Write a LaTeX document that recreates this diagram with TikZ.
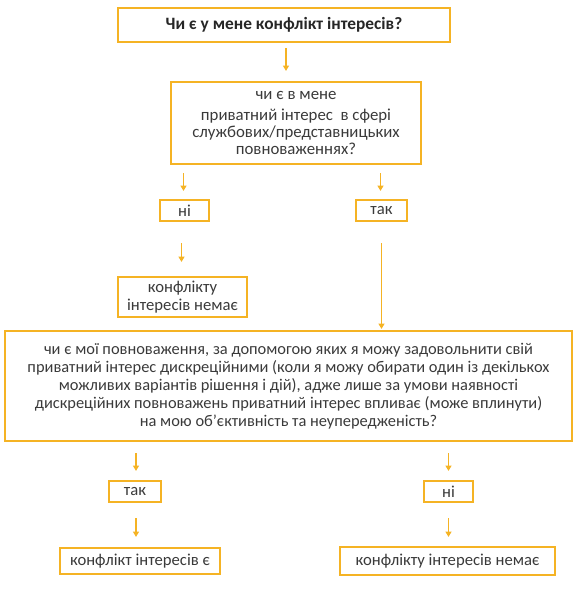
\documentclass[tikz,border=0pt]{standalone}
\usepackage{fontspec}
\setmainfont{Carlito}
\usetikzlibrary{arrows.meta,calc}
\definecolor{ybord}{HTML}{F5B324}
\definecolor{txt}{HTML}{3A3A3A}
\begin{document}
\begin{tikzpicture}[x=0.75pt,y=-0.75pt,
  box/.style={draw=ybord,line width=1.6pt,rectangle,inner sep=0pt,align=center,text=txt,font=\fontsize{12.5pt}{13.8pt}\selectfont},
  arr/.style={draw=ybord,line width=0.8pt,-{Triangle[width=4.5pt,length=4pt]}}]
\useasboundingbox (0,0) rectangle (587,591);
\node[box,minimum width=332*0.75pt,minimum height=34*0.75pt,font=\fontsize{13pt}{14pt}\selectfont\bfseries,text=black!85] (b1) at (284,25) {Чи є у мене конфлікт інтересів?};
\node[box,minimum width=250*0.75pt,minimum height=82*0.75pt,font=\fontsize{12.6pt}{12.6pt}\selectfont] (b2) at (296,123) {чи є в мене\\[3pt] приватний інтерес~ в сфері\\ службових/представницьких\\ повноваженнях?};
\node[box,minimum width=49*0.75pt,minimum height=21*0.75pt] (ni1) at (184.5,210.5) {ні};
\node[box,minimum width=51*0.75pt,minimum height=21*0.75pt] (tak1) at (381.5,210.5) {так};
\node[box,minimum width=129*0.75pt,minimum height=40*0.75pt,font=\fontsize{12.5pt}{13.5pt}\selectfont] (no1) at (182.5,297) {конфлікту\\ інтересів немає};
\node[box,minimum width=567*0.75pt,minimum height=110*0.75pt,font=\fontsize{12.3pt}{13.5pt}\selectfont] (big) at (288.5,386) {чи є мої повноваження, за допомогою яких я можу задовольнити свій\\ приватний інтерес дискреційними (коли я можу обирати один із декількох\\ можливих варіантів рішення і дій), адже лише за умови наявності\\ дискреційних повноважень приватний інтерес впливає (може вплинути)\\ на мою об’єктивність та неупередженість?};
\node[box,minimum width=52*0.75pt,minimum height=21*0.75pt] (tak2) at (135,491.5) {так};
\node[box,minimum width=49*0.75pt,minimum height=21*0.75pt] (ni2) at (448.5,491.5) {ні};
\node[box,minimum width=160*0.75pt,minimum height=26*0.75pt] (yes3) at (140,561) {конфлікт інтересів є};
\node[box,minimum width=215*0.75pt,minimum height=28*0.75pt] (no3) at (447.5,561) {конфлікту інтересів немає};
% connectors
\draw[arr] ($(b1.south)+(2,5)$) -- ($(b1.south|-b2.north)+(2,-10)$);
\draw[arr] ($(ni1.north|-b2.south)+(-1,8)$) -- ($(ni1.north)+(-1,-8)$);
\draw[arr] ($(tak1.north|-b2.south)+(-1,8)$) -- ($(tak1.north)+(-1,-8)$);
\draw[arr] ($(ni1.south)+(-3,21)$) -- ($(no1.north)+(-1,-14)$);
\draw[arr] ($(tak1.south)+(0,21)$) -- ($(tak1.south|-big.north)+(0,-1)$);
\draw[arr] ($(tak2.north|-big.south)+(1,11)$) -- ($(tak2.north)+(1,-9)$);
\draw[arr] ($(ni2.north|-big.south)+(0,11)$) -- ($(ni2.north)+(0,-9)$);
\draw[arr] ($(tak2.south)+(1,15)$) -- ($(tak2.south|-yes3.north)+(1,-10)$);
\draw[arr] ($(ni2.south)+(0,15)$) -- ($(ni2.south|-no3.north)+(0,-9)$);
\end{tikzpicture}
\end{document}
